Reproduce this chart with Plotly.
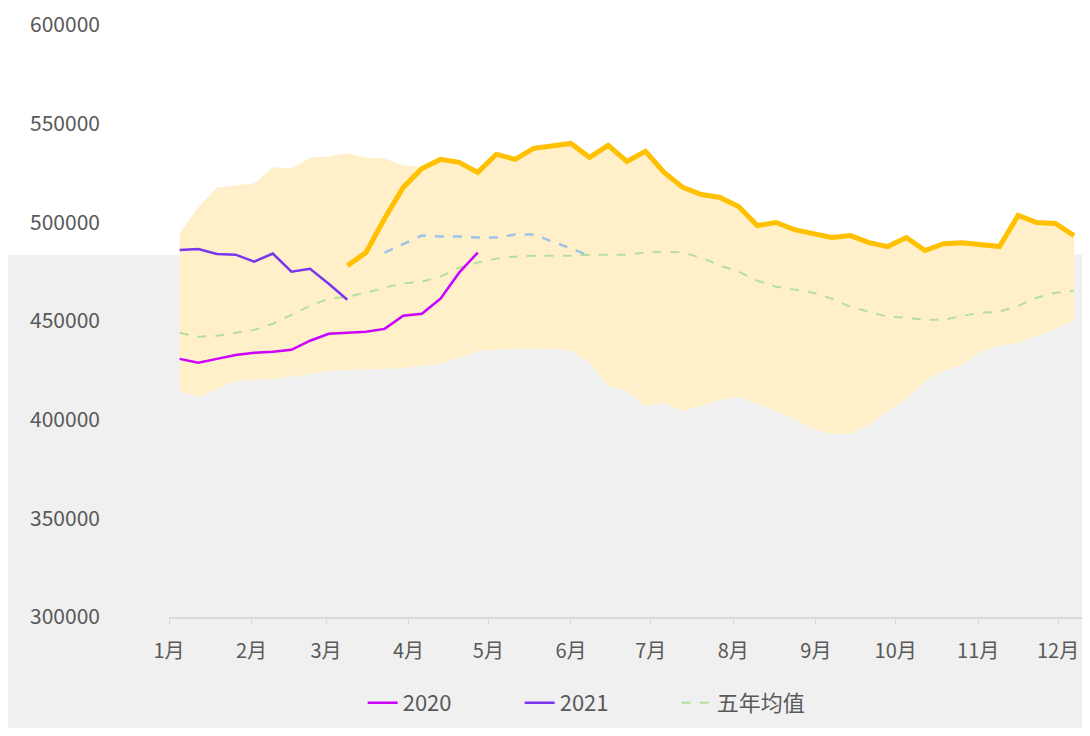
import pandas as pd
import plotly.graph_objects as go

# weekly observation dates (category axis)
weeks = pd.date_range("2021-01-05", periods=49, freq="7D")

month_ticks = pd.date_range("2021-01-01", periods=12, freq="MS")
month_labels = ["1月", "2月", "3月", "4月", "5月", "6月", "7月", "8月", "9月", "10月", "11月", "12月"]

N = None
band_max = [494300, 507500, 517700, 518700, 519700, 527900, 527300, 532900, 533400, 535000,
            532900, 532400, 528900, 527900, 531900, 530400, 525300, 534500, 531900, 537500,
            539000, 540000, 532900, 539000, 530900, 536000, 525300, 517700, 514100, 512600,
            508000, 498400, 499900, 496300, 494300, 492300, 493300, 489700, 487700, 492300,
            485700, 489200, 489700, 488700, 487700, 503500, 499900, 499400, 493300]
band_min = [414500, 411500, 415600, 419600, 420100, 420600, 421700, 423200, 424700, 425200,
            425700, 425700, 426200, 427200, 428300, 431300, 434900, 435400, 435900, 435900,
            435900, 434900, 428800, 417100, 414500, 406900, 408400, 404400, 406900, 410000,
            411500, 407900, 404400, 400300, 395200, 392700, 392700, 397300, 404400, 410500,
            419600, 424700, 427800, 434400, 437400, 438900, 442500, 446000, 450100]
avg5 = [444000, 442000, 442500, 444000, 445500, 448600, 453200, 457700, 461300, 462300,
        464300, 466900, 469000, 469900, 472500, 477000, 479600, 481600, 482600, 483100,
        483100, 483100, 483600, 483600, 483600, 484700, 485200, 484700, 482100, 478100,
        475000, 470400, 467400, 465900, 464300, 461300, 457200, 454700, 452200, 451600,
        450600, 450600, 452600, 454200, 454700, 457700, 461800, 464300, 465300]
s2020 = [430800, 428800, 430800, 432800, 433900, 434400, 435400, 440000, 443500, 444000,
         444500, 446000, 452700, 453700, 461300, 474500, 484700] + [N] * 32
s2021 = [486000, 486500, 484000, 483600, 480100, 484200, 475000, 476500, 468900, 460800] + [N] * 39
s_blue = [N] * 11 + [484700, 489200, 493300, 492800, 492800, 492300, 492300, 493800, 493800,
                     490300, 486700, 483100] + [N] * 26
s_cur = [N] * 9 + [478000, 484700, 501900, 517700, 527300, 531900, 530400, 525300, 534500,
                   531900, 537500, 539000, 540000, 532900, 539000, 530900, 536000, 525300,
                   517700, 514100, 512600, 508000, 498400, 499900, 496300, 494300, 492300,
                   493300, 489700, 487700, 492300, 485700, 489200, 489700, 488700, 487700,
                   503500, 499900, 499400, 493300]

fig = go.Figure()
fig.add_trace(go.Scatter(x=weeks, y=band_min, mode="lines", line=dict(width=0, color="#FFF2CC"),
                         showlegend=False, hoverinfo="skip"))
fig.add_trace(go.Scatter(x=weeks, y=band_max, mode="lines", line=dict(width=0, color="#FFF2CC"),
                         fill="tonexty", fillcolor="#FFF0CA", showlegend=False, hoverinfo="skip"))
fig.add_trace(go.Scatter(x=weeks, y=avg5, mode="lines", name="五年均值", legendrank=3,
                         line=dict(color="#B7DF9A", width=2, dash="dash")))
fig.add_trace(go.Scatter(x=weeks, y=s_blue, mode="lines", name="2019", showlegend=False,
                         line=dict(color="#9DC3E6", width=2.5, dash="dash")))
fig.add_trace(go.Scatter(x=weeks, y=s2021, mode="lines", name="2021", legendrank=2,
                         line=dict(color="#7B35EE", width=2.5)))
fig.add_trace(go.Scatter(x=weeks, y=s2020, mode="lines", name="2020", legendrank=1,
                         line=dict(color="#CC00FF", width=2.5)))
fig.add_trace(go.Scatter(x=weeks, y=s_cur, mode="lines", name="2022", showlegend=False,
                         line=dict(color="#FFC000", width=5)))

fig.add_shape(type="rect", xref="paper", yref="paper", x0=-0.3, x1=1.05, y0=0.612, y1=1.1,
              fillcolor="white", line=dict(width=0), layer="below")

font_family = "Noto Sans CJK SC, Noto Sans, sans-serif"
fig.update_layout(
    width=1082, height=720,
    margin=dict(l=161, r=0, t=17, b=111),
    paper_bgcolor="#F0F0F0", plot_bgcolor="rgba(0,0,0,0)",
    font=dict(family=font_family, size=18, color="#595959"),
    showlegend=True,
    legend=dict(orientation="h", x=0.466, xanchor="center", y=-0.145, yanchor="middle",
                font=dict(size=22, color="#595959"), bgcolor="rgba(0,0,0,0)",
                traceorder="normal", entrywidth=112, entrywidthmode="pixels"),
    hovermode="x unified",
)
fig.update_xaxes(
    type="date", range=["2021-01-01", "2021-12-13"],
    tickmode="array", tickvals=month_ticks, ticktext=month_labels,
    showgrid=False, zeroline=False,
    showline=True, linecolor="#D9D9D9", linewidth=1.5,
    ticks="outside", ticklen=6, tickcolor="#D9D9D9", ticklabelstandoff=9,
    tickfont=dict(size=20, color="#595959"),
)
fig.update_yaxes(
    range=[300000, 600000], tickmode="array",
    tickvals=[300000, 350000, 400000, 450000, 500000, 550000, 600000],
    ticktext=["300000", "350000", "400000", "450000", "500000", "550000", "600000"],
    showgrid=False, zeroline=False, showline=False, ticks="",
    ticklabelstandoff=68, tickfont=dict(size=21, color="#595959"),
)

fig.write_html("out.html")
